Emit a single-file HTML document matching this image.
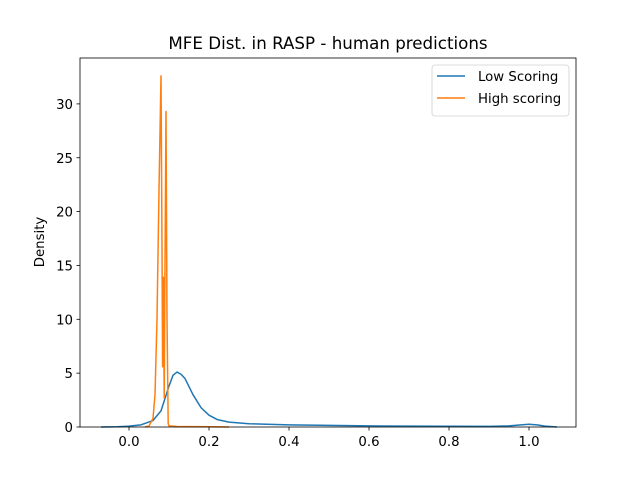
<!DOCTYPE html>
<html><head><meta charset="utf-8"><style>
body{margin:0;background:#fff;font-family:"Liberation Sans","DejaVu Sans",sans-serif}
text{font-family:"DejaVu Sans","Liberation Sans",sans-serif}
</style></head><body>
<svg id="chart" width="640" height="480" xmlns="http://www.w3.org/2000/svg">
<rect width="640" height="480" fill="#fff"/>
<text x="328" y="49" text-anchor="middle" font-size="16.7">MFE Dist. in RASP - human predictions</text>
<text transform="translate(44,242) rotate(-90)" text-anchor="middle" font-size="13.3">Density</text>
<g id="ticks"></g>
<g id="series"></g>
<rect x="80" y="58" width="496" height="369" fill="none" stroke="#000" stroke-width="0.8"/>
<g>
<rect x="432" y="65" width="137" height="51" rx="3" fill="#fff" stroke="#ccc" stroke-width="0.8" opacity="0.9"/>
<g><line x1="437" y1="76" x2="465" y2="76" stroke="#1f77b4" stroke-width="1.5"/><text x="478" y="81" font-size="13.3">Low Scoring</text></g>
<g><line x1="437" y1="98" x2="465" y2="98" stroke="#ff7f0e" stroke-width="1.5"/><text x="478" y="103" font-size="13.3">High scoring</text></g>
</g>
</svg>
<script>
const xTicks=[0.0,0.2,0.4,0.6,0.8,1.0];
const xTickLabels=["0.0","0.2","0.4","0.6","0.8","1.0"];
const yTicks=[0,5,10,15,20,25,30];
const lowX=[-0.07,-0.03,0.0,0.03,0.06,0.08,0.1,0.11,0.12,0.13,0.14,0.16,0.18,0.2,0.22,0.25,0.3,0.4,0.5,0.6,0.7,0.8,0.9,0.95,0.98,1.0,1.02,1.04,1.07];
const lowY=[0,0.02,0.08,0.2,0.6,1.5,3.8,4.8,5.1,4.9,4.5,3.0,1.8,1.1,0.7,0.45,0.3,0.2,0.15,0.1,0.08,0.07,0.06,0.1,0.2,0.25,0.2,0.08,0];
const highX=[0.04,0.05,0.06,0.065,0.07,0.075,0.08,0.082,0.084,0.086,0.088,0.09,0.0925,0.095,0.098,0.1,0.12,0.16,0.2,0.25];
const highY=[0,0.1,0.8,3,10,22,32.6,20,5.6,13.9,2.7,15,29.3,10,0.3,0.1,0.05,0.03,0.02,0];
const X=v=>129+v*400, Y=v=>427-v*10.77;
const NS="http://www.w3.org/2000/svg";
const tg=document.getElementById('ticks');
function mk(tag,attrs,parent){const e=document.createElementNS(NS,tag);for(const k in attrs)e.setAttribute(k,attrs[k]);parent.appendChild(e);return e;}
xTicks.forEach((t,i)=>{
 const g=mk('g',{},tg);
 
 
 mk('line',{x1:X(t),x2:X(t),y1:427,y2:430.5,stroke:'#000','stroke-width':0.8},g);
 const tx=mk('text',{x:X(t),y:446,'text-anchor':'middle','font-size':13.3},g);tx.textContent=xTickLabels[i];
});
yTicks.forEach(t=>{
 const g=mk('g',{},tg);
 
 
 mk('line',{x1:76.5,x2:80,y1:Y(t),y2:Y(t),stroke:'#000','stroke-width':0.8},g);
 const tx=mk('text',{x:73,y:Y(t)+5,'text-anchor':'end','font-size':13.3},g);tx.textContent=String(t);
});
const sg=document.getElementById('series');
const p1=mk('polyline',{points:lowX.map((x,i)=>X(x)+','+Y(lowY[i])).join(' '),fill:'none',stroke:'#1f77b4','stroke-width':1.5,'stroke-linejoin':'round'},sg);


const p2=mk('polyline',{points:highX.map((x,i)=>X(x)+','+Y(highY[i])).join(' '),fill:'none',stroke:'#ff7f0e','stroke-width':1.5,'stroke-linejoin':'round'},sg);


</script>
</body></html>
